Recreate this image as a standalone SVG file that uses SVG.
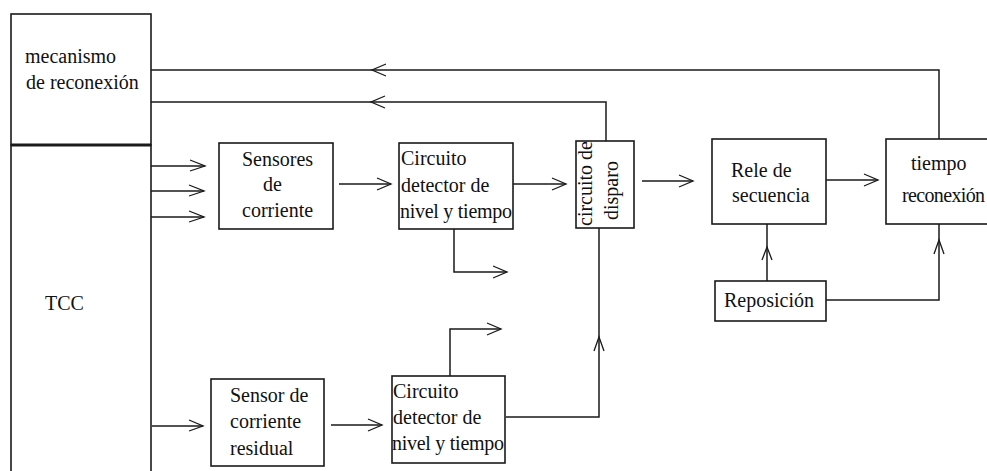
<svg xmlns="http://www.w3.org/2000/svg" width="987" height="471" viewBox="0 0 987 471">
<style>
  .box { fill: #fff; stroke: #1a1a1a; stroke-width: 1.6; }
  .ln { fill: none; stroke: #1a1a1a; stroke-width: 1.5; }
  .ah { fill: none; stroke: #1a1a1a; stroke-width: 1.3; }
  .t { font-family: 'Liberation Serif', 'DejaVu Serif', 'Times New Roman', Times, serif; font-size: 20px; fill: #111; }
</style>
<rect width="987" height="471" fill="#fff"/>

<g id="mecanismo">
  <rect class="box" x="11" y="14" width="140" height="131"/>
  <text class="t" font-family="Liberation Serif, serif" x="25" y="63">mecanismo</text>
  <text class="t" font-family="Liberation Serif, serif" x="26" y="89">de reconexión</text>
</g>
<g id="tcc">
  <rect class="box" x="11" y="145" width="140" height="340"/>
  <line x1="11" y1="145" x2="151" y2="145" stroke="#1a1a1a" stroke-width="3"/>
  <text class="t" font-family="Liberation Serif, serif" x="45" y="310">TCC</text>
</g>
<g id="sensores">
  <rect class="box" x="219" y="143" width="114" height="86"/>
  <text class="t" font-family="Liberation Serif, serif" x="242" y="166">Sensores</text>
  <text class="t" font-family="Liberation Serif, serif" x="263" y="191">de</text>
  <text class="t" font-family="Liberation Serif, serif" x="242" y="217">corriente</text>
</g>
<g id="circuito1">
  <rect class="box" x="399" y="143" width="114" height="86"/>
  <text class="t" font-family="Liberation Serif, serif" x="401" y="165">Circuito</text>
  <text class="t" font-family="Liberation Serif, serif" x="401" y="192">detector de</text>
  <text class="t" font-family="Liberation Serif, serif" x="400" y="218" textLength="112">nivel y tiempo</text>
</g>
<g id="disparo">
  <rect class="box" x="576" y="141" width="58" height="87"/>
  <text class="t" font-family="Liberation Serif, serif" transform="translate(592,226) rotate(-90)">circuito de</text>
  <text class="t" font-family="Liberation Serif, serif" transform="translate(618,220) rotate(-90)">disparo</text>
</g>
<g id="rele">
  <rect class="box" x="712" y="139" width="114" height="85"/>
  <text class="t" font-family="Liberation Serif, serif" x="731" y="177">Rele de</text>
  <text class="t" font-family="Liberation Serif, serif" x="732" y="202">secuencia</text>
</g>
<g id="tiempo">
  <rect class="box" x="886" y="139" width="120" height="85"/>
  <text class="t" font-family="Liberation Serif, serif" x="911" y="170">tiempo</text>
  <text class="t" font-family="Liberation Serif, serif" x="902" y="202" textLength="83">reconexión</text>
</g>
<g id="reposicion">
  <rect class="box" x="715" y="281" width="111" height="40"/>
  <text class="t" font-family="Liberation Serif, serif" x="724" y="307">Reposición</text>
</g>
<g id="residual">
  <rect class="box" x="211" y="379" width="113" height="87"/>
  <text class="t" font-family="Liberation Serif, serif" x="230" y="402">Sensor de</text>
  <text class="t" font-family="Liberation Serif, serif" x="230" y="428">corriente</text>
  <text class="t" font-family="Liberation Serif, serif" x="230" y="455">residual</text>
</g>
<g id="circuito2">
  <rect class="box" x="392" y="376" width="113" height="87"/>
  <text class="t" font-family="Liberation Serif, serif" x="393" y="398">Circuito</text>
  <text class="t" font-family="Liberation Serif, serif" x="393" y="424">detector de</text>
  <text class="t" font-family="Liberation Serif, serif" x="392" y="450" textLength="112">nivel y tiempo</text>
</g>

<g id="connectors">
  <polyline class="ln" points="939,139 939,70 151,70"/>
  <polyline class="ah" points="386,64 372,70 386,76"/>
  <polyline class="ln" points="606,141 606,102 151,102"/>
  <polyline class="ah" points="385,96 371,102 385,108"/>
  <line class="ln" x1="151" y1="166" x2="205" y2="166"/>
  <polyline class="ah" points="190,160 205,166 190,171"/>
  <line class="ln" x1="151" y1="191" x2="204" y2="191"/>
  <polyline class="ah" points="189,185 204,191 189,196"/>
  <line class="ln" x1="151" y1="217" x2="204" y2="217"/>
  <polyline class="ah" points="189,211 204,217 189,222"/>
  <line class="ln" x1="339" y1="184" x2="391" y2="184"/>
  <polyline class="ah" points="377,178 391,184 377,190"/>
  <line class="ln" x1="513" y1="184" x2="566" y2="184"/>
  <polyline class="ah" points="552,178 566,184 552,190"/>
  <polyline class="ln" points="454,229 454,272 507,272"/>
  <polyline class="ah" points="493,266 507,272 493,278"/>
  <line class="ln" x1="642" y1="181" x2="693" y2="181"/>
  <polyline class="ah" points="679,175 693,181 679,187"/>
  <line class="ln" x1="826" y1="180" x2="878" y2="180"/>
  <polyline class="ah" points="864,174 878,180 864,186"/>
  <line class="ln" x1="767" y1="281" x2="767" y2="224"/>
  <polyline class="ah" points="762,260 767,247 772,260"/>
  <polyline class="ln" points="826,300 939,300 939,224"/>
  <polyline class="ah" points="934,254 939,240 944,254"/>
  <line class="ln" x1="152" y1="426" x2="203" y2="426"/>
  <polyline class="ah" points="189,420 203,426 189,431"/>
  <line class="ln" x1="331" y1="425" x2="382" y2="425"/>
  <polyline class="ah" points="368,419 382,425 368,431"/>
  <polyline class="ln" points="450,376 450,329 501,329"/>
  <polyline class="ah" points="487,323 501,329 487,335"/>
  <polyline class="ln" points="506,417 599,417 599,228"/>
  <polyline class="ah" points="594,351 599,337 604,351"/>
</g>
</svg>
